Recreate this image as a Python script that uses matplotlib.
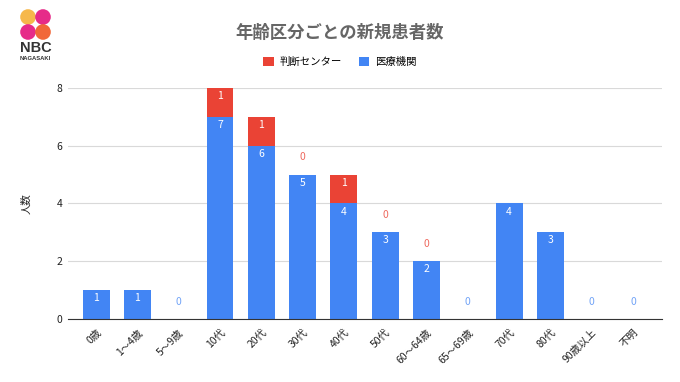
import matplotlib
matplotlib.use('Agg')
from matplotlib import pyplot as plt
from matplotlib.patches import Circle
import numpy as np

plt.rcParams['font.family'] = ['Noto Sans CJK JP', 'DejaVu Sans']

categories = ['0歳', '1〜4歳', '5〜9歳', '10代', '20代', '30代', '40代', '50代',
              '60〜64歳', '65〜69歳', '70代', '80代', '90歳以上', '不明']
iryo = [1, 1, 0, 7, 6, 5, 4, 3, 2, 0, 4, 3, 0, 0]          # 医療機関
handan = [None, None, None, 1, 1, 0, 1, 0, 0, None, None, None, None, None]  # 判断センター

BLUE = '#4285F4'
RED = '#EA4335'

fig = plt.figure(figsize=(6.8, 3.82), dpi=100)
ax = fig.add_axes([0.1, 0.165, 0.8735, 0.605])

x = np.arange(len(categories))
w = 0.65
h_red = [v if v is not None else 0 for v in handan]
ax.bar(x, iryo, w, color=BLUE, zorder=2, label='医療機関')
ax.bar(x, h_red, w, bottom=iryo, color=RED, zorder=2, label='判断センター')

# value labels
for i in range(len(categories)):
    b = iryo[i]
    if b > 0:
        ax.text(x[i], b - 0.28, str(b), ha='center', va='center', color='white', fontsize=7.5, zorder=3)
    else:
        ax.text(x[i], 0.58, '0', ha='center', va='center', color=BLUE, fontsize=7.5, alpha=0.75, zorder=3)
    r = handan[i]
    if r is None:
        continue
    if r > 0:
        ax.text(x[i], b + r - 0.28, str(r), ha='center', va='center', color='white', fontsize=7.5, zorder=3)
    else:
        ax.text(x[i], b + 0.6, '0', ha='center', va='center', color=RED, fontsize=7.5, alpha=0.8, zorder=3)

ax.set_xlim(-0.68, len(categories) - 0.3)
ax.set_ylim(0, 8)
ax.set_yticks([0, 2, 4, 6, 8])
ax.yaxis.grid(True, color='#d9d9d9', linewidth=0.8, zorder=0)
ax.set_axisbelow(True)
for s in ['top', 'right', 'left']:
    ax.spines[s].set_visible(False)
ax.spines['bottom'].set_color('#333333')
ax.spines['bottom'].set_linewidth(0.8)
ax.tick_params(axis='both', length=0, labelsize=7.5, colors='#222222')
ax.tick_params(axis='y', pad=4)
ax.set_xticks(x)
ax.set_xticklabels(categories, rotation=45, ha='right', rotation_mode='anchor')
ax.tick_params(axis='x', pad=6)
ax.set_ylabel('人数', fontsize=7.5, color='#222222', labelpad=18)

fig.text(0.5, 0.913, '年齢区分ごとの新規患者数', ha='center', va='center',
         fontsize=12.5, fontweight='bold', color='#666666')

handles, labels = ax.get_legend_handles_labels()
fig.legend(handles[::-1], labels[::-1], loc='center', bbox_to_anchor=(0.5, 0.838), ncol=2,
           frameon=False, fontsize=7.5, handlelength=1.0, handleheight=1.0,
           columnspacing=1.6, handletextpad=0.6)

# logo
lg = fig.add_axes([0, 0, 1, 1], zorder=-1)
lg.set_xlim(0, 680)
lg.set_ylim(382, 0)
lg.axis('off')
for (cx, cy, c) in [(28, 17, '#f6b23c'), (43, 17, '#e4197f'), (28, 32, '#e4197f'), (43, 32, '#f05a28')]:
    lg.add_patch(Circle((cx, cy), 7.8, color=c, alpha=0.92, linewidth=0))
lg.text(35.5, 48, 'NBC', ha='center', va='center', fontsize=10.5, color='#333333',
        fontweight='bold', family='Liberation Sans')
lg.text(35.5, 59, 'NAGASAKI', ha='center', va='center', fontsize=4.2, color='#333333',
        fontweight='bold', family='Liberation Sans')

fig.savefig('out.png', dpi=100, facecolor='white')
